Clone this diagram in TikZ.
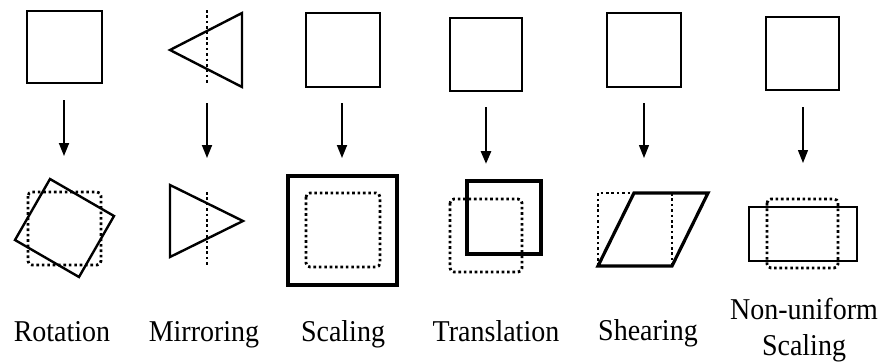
\documentclass[tikz,border=0pt]{standalone}
\usepackage{fontspec}
\setmainfont{Liberation Serif}
\usetikzlibrary{arrows.meta}
\tikzset{
  solidline/.style={line width=2.4pt, line join=miter},
  thickline/.style={line width=3.2pt, line join=miter},
  dotline/.style={line width=2.8pt, dash pattern=on 2.6pt off 2.8pt},
  dotbox/.style={dotline, rounded corners=4pt},
  downarrow/.style={line width=1.8pt, -{Triangle[length=13pt,width=10pt]}},
  lbl/.style={font=\fontsize{28}{36}\selectfont, anchor=base, inner sep=0pt, yscale=1.08}
}
\begin{document}
\begin{tikzpicture}[x=1pt,y=-1pt]
\useasboundingbox (0,0) rectangle (878,364);
% ---------- Rotation
\draw[solidline] (27,11) rectangle (102,83);
\coordinate (r1) at (64,100); \coordinate (r2) at (64,156);
\draw[downarrow] (r1) -- (r2);
\draw[dotbox] (28,192) rectangle (101,265);
\draw[solidline] (50,179) -- (114,216) -- (79,277) -- (15,240) -- cycle;
\node[lbl] (lrot) at (62,341) {Rotation};
% ---------- Mirroring
\draw[solidline] (170,50) -- (242,13) -- (242,87) -- cycle;
\draw[dotline] (207,10) -- (207,83);
\coordinate (m1) at (207,103); \coordinate (m2) at (207,158);
\draw[downarrow] (m1) -- (m2);
\draw[solidline] (170,185) -- (243,221) -- (170,257) -- cycle;
\draw[dotline] (207,192) -- (207,265);
\node[lbl] (lmir) at (204,341) {Mirroring};
% ---------- Scaling
\draw[solidline] (306,13) rectangle (380,87);
\coordinate (s1) at (342,103); \coordinate (s2) at (342,158);
\draw[downarrow] (s1) -- (s2);
\draw[thickline] (288,176) rectangle (397,285);
\draw[dotbox] (306,193) rectangle (380,267);
\node[lbl] (lsca) at (343,341) {Scaling};
% ---------- Translation
\draw[solidline] (450,18) rectangle (522,91);
\coordinate (t1) at (486,107); \coordinate (t2) at (486,164);
\draw[downarrow, line width=2.8pt] (t1) -- (t2);
\draw[dotbox] (450,199) rectangle (522,272);
\draw[thickline] (467,181) rectangle (541,254);
\node[lbl] (ltra) at (496,341) {Translation};
% ---------- Shearing
\draw[solidline] (607,13) rectangle (681,87);
\coordinate (h1) at (644,103); \coordinate (h2) at (644,158);
\draw[downarrow, line width=1.2pt] (h1) -- (h2);
\draw[dotline] (598,266) -- (598,193) -- (634,193);
\draw[dotline] (672,193) -- (672,266);
\draw[thickline] (634,193) -- (708,193) -- (672,266) -- (598,266) -- cycle;
\node[lbl] (lshe) at (648,340) {Shearing};
% ---------- Non-uniform scaling
\draw[solidline] (766,17) rectangle (839,90);
\coordinate (n1) at (803,107); \coordinate (n2) at (803,163);
\draw[downarrow, line width=1.2pt] (n1) -- (n2);
\draw[dotbox] (767,199) rectangle (838,268);
\draw[solidline] (749,207) rectangle (857,261);
\node[lbl] (lnon1) at (804,319) {Non-uniform};
\node[lbl] (lnon2) at (804,355) {Scaling};
\end{tikzpicture}
\end{document}
